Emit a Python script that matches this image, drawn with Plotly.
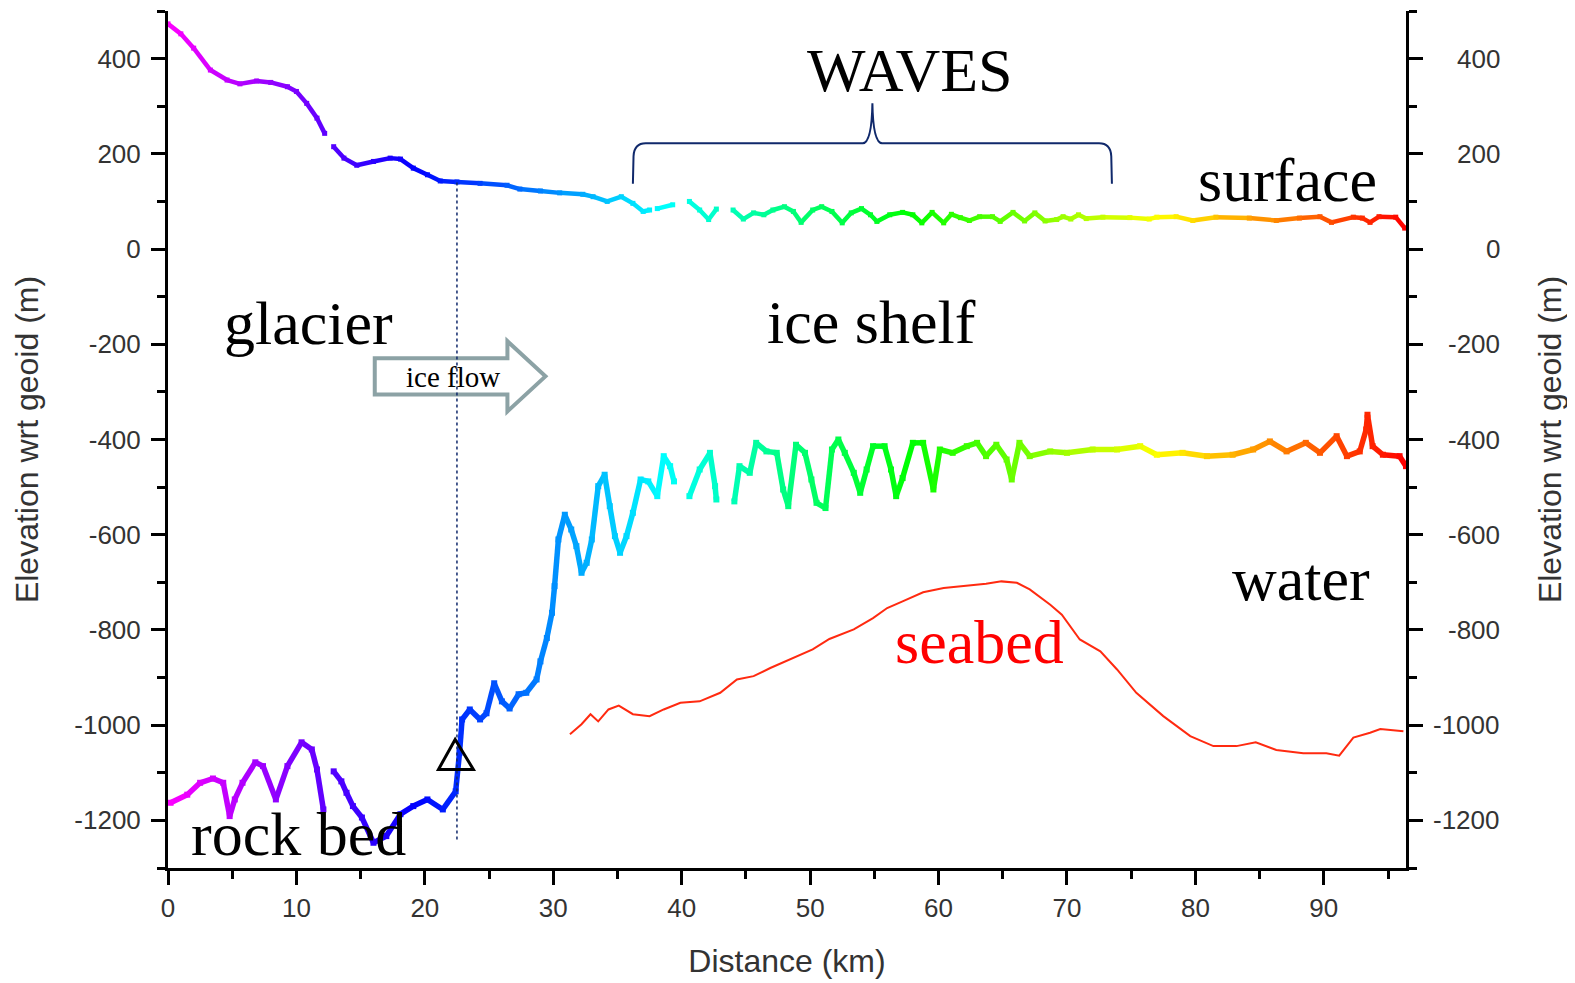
import plotly.graph_objects as go
from plotly.colors import sample_colorscale

# ---------------- data ----------------
X_MAX = 96.4  # km, right edge of the profile

surface_km = [0.0, 1.0, 2.0, 3.3, 4.6, 5.6, 6.9, 8.0, 9.3, 10.0,
              10.8, 11.6, 12.2, None, 12.9, 13.7, 14.7, 16.0, 17.3, 18.1,
              19.1, 20.2, 21.2, 22.5, 24.3, 26.4, 27.4, 29.0, 30.5, 32.3,
              33.1, 34.2, 35.3, 36.2, 37.0, 37.5, None, 38.1, 39.3, None,
              40.6, 41.4, 42.1, 42.7, None, 44.0, 44.8, 45.6, 46.4, 47.1,
              48.0, 48.7, 49.3, 50.2, 50.9, 51.7, 52.5, 53.2, 54.0, 54.7,
              55.2, 56.2, 57.2, 58.0, 58.7, 59.5, 60.4, 61.0, 61.7, 62.4,
              63.2, 64.2, 64.8, 65.8, 66.7, 67.5, 68.3, 69.2, 69.7, 70.3,
              70.9, 71.5, 72.8, 74.9, 76.4, 77.0, 78.5, 79.8, 81.6, 84.2,
              86.3, 88.1, 89.7, 90.6, 92.3, 93.0, 93.6, 94.3, 95.6, 96.3]
surface_m = [473, 452, 422, 376, 355, 347, 353, 350, 341, 331,
             306, 275, 243, None, 215, 191, 176, 184, 191, 189,
             170, 156, 143, 141, 138, 134, 126, 122, 118, 115,
             110, 100, 110, 96, 79, 82, None, 85, 93, None,
             100, 82, 62, 84, None, 82, 63, 76, 72, 82,
             89, 79, 56, 82, 89, 79, 55, 76, 85, 72,
             58, 72, 77, 72, 55, 77, 55, 73, 66, 60,
             68, 68, 58, 77, 59, 76, 59, 62, 68, 63,
             72, 64, 67, 66, 63, 67, 68, 60, 67, 65,
             60, 65, 68, 56, 67, 65, 56, 68, 67, 44]

bed_km = [0.2, 1.5, 2.5, 3.5, 4.3, 4.8, 5.2, 5.8, 6.8, 7.4,
          8.4, 9.3, 10.4, 11.2, 11.6, 12.1, None, 12.9, 13.5, 13.9,
          14.4, 15.1, 16.0, 17.0, 18.1, 19.1, 20.2, 21.4, 22.4, 22.7,
          22.9, 23.5, 24.3, 24.8, 25.4, 26.0, 26.6, 27.3, 27.9, 28.7,
          29.0, 29.5, 29.9, 30.1, 30.4, 30.9, 31.4, 31.8, 32.2, 32.6,
          33.0, 33.5, 34.0, 34.4, 34.8, 35.2, 35.7, 36.2, 36.8, 37.4,
          38.1, 38.6, 39.1, 39.4, None, 40.6, 41.4, 42.2, 42.6, 42.7,
          None, 44.1, 44.5, 45.3, 45.8, 46.6, 47.4, 47.9, 48.3, 48.9,
          49.6, 50.1, 50.5, 51.2, 51.7, 52.2, 52.7, 53.4, 53.9, 54.4,
          54.9, 55.8, 56.3, 56.7, 57.2, 58.0, 58.8, 59.6, 60.1, 61.1,
          62.2, 63.0, 63.7, 64.5, 65.3, 65.7, 66.3, 67.1, 68.7, 70.0,
          72.0, 73.9, 75.7, 77.0, 79.0, 80.9, 82.9, 84.5, 85.8, 87.1,
          88.6, 89.7, 91.0, 91.8, 92.8, 93.3, 93.4, 93.8, 94.6, 95.9,
          96.4]
bed_m = [-1163, -1146, -1121, -1112, -1121, -1191, -1156, -1121, -1078, -1086,
         -1156, -1086, -1036, -1051, -1093, -1177, None, -1097, -1118, -1142,
         -1170, -1194, -1247, -1233, -1187, -1170, -1156, -1177, -1139, -1058,
         -988, -967, -988, -975, -912, -950, -965, -935, -932, -904,
         -866, -817, -764, -708, -610, -558, -589, -624, -680, -659,
         -610, -498, -474, -540, -603, -638, -603, -554, -484, -488,
         -519, -435, -456, -488, None, -519, -463, -428, -498, -526,
         None, -530, -456, -470, -407, -425, -428, -505, -540, -411,
         -428, -484, -533, -544, -421, -400, -428, -470, -512, -463,
         -414, -414, -463, -519, -481, -407, -407, -505, -421, -428,
         -414, -407, -435, -411, -442, -484, -407, -435, -425, -428,
         -421, -421, -414, -432, -428, -435, -432, -421, -404, -425,
         -407, -428, -393, -435, -425, -379, -348, -414, -432, -435,
         -456]

seabed_km = [31.3, 32.2, 32.9, 33.5, 34.3, 35.1, 36.2, 37.5, 38.6, 39.9,
             41.4, 43.0, 44.3, 45.6, 46.9, 48.7, 50.2, 51.5, 53.4, 54.9,
             56.0, 57.2, 58.8, 60.4, 61.9, 63.7, 64.9, 66.1, 67.1, 67.8,
             68.7, 69.6, 71.0, 72.6, 73.9, 75.4, 77.5, 79.6, 81.4, 83.2,
             84.7, 86.3, 88.4, 90.2, 91.2, 92.3, 93.6, 94.4, 96.2]
seabed_m = [-1019, -998, -977, -992, -967, -959, -977, -981, -967, -953,
            -950, -932, -904, -897, -880, -859, -841, -819, -799, -775,
            -754, -740, -721, -712, -708, -703, -698, -701, -715, -729,
            -747, -768, -820, -845, -883, -932, -981, -1023, -1044, -1044,
            -1036, -1052, -1059, -1059, -1064, -1026, -1016, -1008, -1013]

x_tickvals = [0, 10, 20, 30, 40, 50, 60, 70, 80, 90]
x_ticktext = ["0", "10", "20", "30", "40", "50", "60", "70", "80", "90"]
y_tickvals = [-1200, -1000, -800, -600, -400, -200, 0, 200, 400]
y_ticktext = ["-1200", "-1000", "-800", "-600", "-400", "-200", "0", "200", "400"]

grounding_line_km = 22.5

# ---------------- styling ----------------
RAINBOW = [[0.0, "#ff00ff"], [0.2, "#0000ff"], [0.4, "#00ffff"],
           [0.6, "#00ff00"], [0.8, "#ffff00"], [1.0, "#ff0000"]]
SERIF = "Liberation Serif"
SANS = "Liberation Sans"
TICK_GREY = "#333333"
NAVY = "#10296b"
TICK_SIZE = 26
TITLE_SIZE = 32

fig = go.Figure()


def add_rainbow(xs, ys, width):
    for i in range(len(xs) - 1):
        if xs[i] is None or xs[i + 1] is None:
            continue
        t = ((xs[i] + xs[i + 1]) / 2) / X_MAX
        col = sample_colorscale(RAINBOW, [min(max(t, 0), 1)])[0]
        fig.add_trace(go.Scatter(x=[xs[i], xs[i + 1]], y=[ys[i], ys[i + 1]],
                                 mode="lines", line=dict(color=col, width=width),
                                 hoverinfo="skip", showlegend=False))
    px = [x for x in xs if x is not None]
    py = [y for y in ys if y is not None]
    fig.add_trace(go.Scatter(x=px, y=py, mode="markers",
                             marker=dict(color=px, colorscale=RAINBOW, cmin=0, cmax=X_MAX,
                                         size=width + 0.5, symbol="square",
                                         line=dict(width=0)),
                             hoverinfo="skip", showlegend=False))


add_rainbow(surface_km, surface_m, 4.5)
add_rainbow(bed_km, bed_m, 5.5)

fig.add_trace(go.Scatter(x=seabed_km, y=seabed_m, mode="lines",
                         line=dict(color="#ff2a10", width=2),
                         hoverinfo="skip", showlegend=False))

# dummy trace so the right axis is drawn
fig.add_trace(go.Scatter(x=[], y=[], yaxis="y2", showlegend=False))

# ---------------- decorations ----------------
shapes = []
# ice-flow block arrow
shapes.append(dict(type="path", xref="x", yref="y",
                   path="M 16.1,-229.4 L 26.43,-229.4 L 26.43,-193.5 L 29.39,-267.4 "
                        "L 26.43,-341 L 26.43,-305.4 L 16.1,-305.4 Z",
                   line=dict(color="#8ca2a5", width=4), fillcolor="white", layer="above"))
# grounding line (dotted)
shapes.append(dict(type="line", xref="x", yref="y",
                   x0=grounding_line_km, x1=grounding_line_km, y0=140, y1=-1240,
                   line=dict(color=NAVY, width=1.5, dash="dot"), layer="above"))
# brace over WAVES
shapes.append(dict(type="path", xref="x", yref="y",
                   path="M 36.2,137 L 36.25,195 Q 36.3,222 37.2,222 L 54.1,222 "
                        "Q 54.8,224 54.85,306 Q 54.9,224 55.6,222 L 72.5,222 "
                        "Q 73.4,222 73.45,195 L 73.5,137",
                   line=dict(color=NAVY, width=2)))
# triangle marker at grounding line
shapes.append(dict(type="path", xref="x", yref="y",
                   path="M 21.06,-1093 L 22.36,-1030 L 23.78,-1093 Z",
                   line=dict(color="black", width=3)))

annotations = [
    dict(text="WAVES", x=57.8, y=377, size=62, color="black"),
    dict(text="surface", x=87.2, y=145, size=62, color="black"),
    dict(text="glacier", x=10.95, y=-156, size=62, color="black"),
    dict(text="ice shelf", x=54.8, y=-154, size=62, color="black"),
    dict(text="ice flow", x=22.2, y=-268, size=29, color="black"),
    dict(text="water", x=88.2, y=-692, size=62, color="black"),
    dict(text="seabed", x=63.2, y=-825, size=62, color="#ff0000"),
    dict(text="rock bed", x=10.2, y=-1229, size=62, color="black"),
]
ann_objs = [dict(text=a["text"], x=a["x"], y=a["y"], xref="x", yref="y",
                 showarrow=False, xanchor="center", yanchor="middle",
                 font=dict(family=SERIF, size=a["size"], color=a["color"]))
            for a in annotations]

# right-hand tick labels are right-aligned in the reference
for v, t in zip(y_tickvals, y_ticktext):
    ann_objs.append(dict(text=t, x=1, y=v, xref="paper", yref="y", xshift=96,
                         xanchor="right", yanchor="middle", showarrow=False,
                         font=dict(family=SANS, size=TICK_SIZE, color=TICK_GREY)))

axis_common = dict(showline=True, linecolor="black", linewidth=3, mirror=False,
                   showgrid=False, zeroline=False,
                   ticks="outside", ticklen=14, tickwidth=2.5, tickcolor="black",
                   tickfont=dict(family=SANS, size=TICK_SIZE, color=TICK_GREY))

# the page body has an 8px margin, so the figure is 8px smaller
fig.update_layout(
    width=1567, height=975,
    margin=dict(l=160, r=169, t=3, b=115),
    plot_bgcolor="white", paper_bgcolor="white",
    showlegend=False,
    shapes=shapes,
    annotations=ann_objs,
    xaxis=dict(range=[0, X_MAX], tickmode="array", tickvals=x_tickvals, ticktext=x_ticktext,
               minor=dict(ticks="outside", ticklen=8, tickwidth=2.5, tickcolor="black",
                          tick0=0, dtick=5),
               ticklabelstandoff=1,
               title=dict(text="Distance (km)", standoff=28,
                          font=dict(family=SANS, size=TITLE_SIZE, color=TICK_GREY)),
               **axis_common),
    yaxis=dict(range=[-1300, 500], tickmode="array", tickvals=y_tickvals, ticktext=y_ticktext,
               minor=dict(ticks="outside", ticklen=8, tickwidth=2.5, tickcolor="black",
                          tick0=0, dtick=100),
               ticklabelstandoff=5,
               title=dict(text="Elevation wrt geoid (m)", standoff=27,
                          font=dict(family=SANS, size=TITLE_SIZE, color=TICK_GREY)),
               **axis_common),
    yaxis2=dict(range=[-1300, 500], overlaying="y", side="right", anchor="x",
                tickmode="array", tickvals=y_tickvals, ticktext=y_ticktext,
                showticklabels=False,
                minor=dict(ticks="outside", ticklen=8, tickwidth=2.5, tickcolor="black",
                           tick0=0, dtick=100),
                title=dict(text="Elevation wrt geoid (m)", standoff=117,
                           font=dict(family=SANS, size=TITLE_SIZE, color=TICK_GREY)),
                **axis_common),
)

fig.write_html("out.html")
